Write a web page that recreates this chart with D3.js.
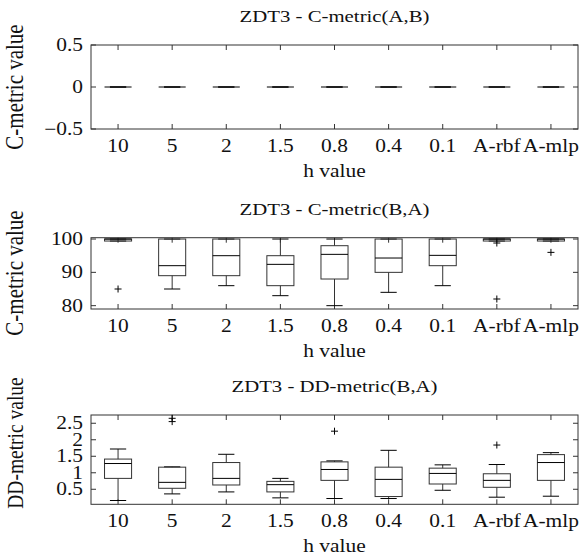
<!DOCTYPE html>
<html>
<head>
<meta charset="utf-8">
<script src="https://cdn.jsdelivr.net/npm/d3@7"></script>
<style>
  html, body { margin: 0; padding: 0; background: #fff; }
  svg { display: block; }
  text { font-family: "Liberation Serif", "Times New Roman", serif; fill: #111; }
</style>
</head>
<body>
<svg id="chart" width="587" height="559"></svg>
<script>
// h values on the x axis of every panel
const categories = ["10", "5", "2", "1.5", "0.8", "0.4", "0.1", "A-rbf", "A-mlp"];

// Panel 1: C-metric(A,B) — every run scores 0
const cabLow    = [0, 0, 0, 0, 0, 0, 0, 0, 0];
const cabQ1     = [0, 0, 0, 0, 0, 0, 0, 0, 0];
const cabMedian = [0, 0, 0, 0, 0, 0, 0, 0, 0];
const cabQ3     = [0, 0, 0, 0, 0, 0, 0, 0, 0];
const cabHigh   = [0, 0, 0, 0, 0, 0, 0, 0, 0];
const cabOut    = [[], [], [], [], [], [], [], [], []];
const cabTicks  = [-0.5, 0, 0.5];
const cabTickLabels = ["\u22120.5", "0", "0.5"];

// Panel 2: C-metric(B,A)
const cbaLow    = [99.4, 85, 86, 83, 80, 84, 86, 99.4, 99.4];
const cbaQ1     = [99.4, 89, 89, 86, 88, 90, 92, 99.4, 99.4];
const cbaMedian = [100, 92, 95, 92.4, 95.4, 94.3, 95.1, 100, 100];
const cbaQ3     = [100, 100, 100, 95, 98, 100, 100, 100, 100];
const cbaHigh   = [100, 100, 100, 100, 100, 100, 100, 100, 100];
const cbaOut    = [[85], [], [], [], [], [], [], [98.8, 82], [96]];
const cbaTicks  = [80, 90, 100];
const cbaTickLabels = ["80", "90", "100"];

// Panel 3: DD-metric(B,A)
const ddLow    = [0.16, 0.36, 0.42, 0.24, 0.22, 0.22, 0.47, 0.26, 0.29];
const ddQ1     = [0.83, 0.53, 0.63, 0.42, 0.77, 0.28, 0.66, 0.56, 0.77];
const ddMedian = [1.28, 0.71, 0.83, 0.64, 1.10, 0.80, 0.98, 0.77, 1.31];
const ddQ3     = [1.415, 1.17, 1.31, 0.74, 1.33, 1.17, 1.14, 0.97, 1.55];
const ddHigh   = [1.72, 1.18, 1.56, 0.83, 1.36, 1.68, 1.24, 1.25, 1.61];
const ddOut    = [[], [2.65, 2.55], [], [], [2.26], [], [], [1.84], []];
const ddTicks  = [0.5, 1, 1.5, 2, 2.5];
const ddTickLabels = ["0.5", "1", "1.5", "2", "2.5"];

const panels = [
  { title: "ZDT3 - C-metric(A,B)", ylabel: "C-metric value", domain: [-0.5, 0.5],
    top: 45, bottom: 129, ylabelY: 87, ylabelSize: 21,
    low: cabLow, q1: cabQ1, med: cabMedian, q3: cabQ3, high: cabHigh,
    out: cabOut, ticks: cabTicks, tickLabels: cabTickLabels },
  { title: "ZDT3 - C-metric(B,A)", ylabel: "C-metric value", domain: [79.0, 100.4],
    top: 237.7, bottom: 309, ylabelY: 273, ylabelSize: 21,
    low: cbaLow, q1: cbaQ1, med: cbaMedian, q3: cbaQ3, high: cbaHigh,
    out: cbaOut, ticks: cbaTicks, tickLabels: cbaTickLabels },
  { title: "ZDT3 - DD-metric(B,A)", ylabel: "DD-metric value", domain: [0.045, 2.75],
    top: 415, bottom: 504.3, ylabelY: 443, ylabelSize: 19.5,
    low: ddLow, q1: ddQ1, med: ddMedian, q3: ddQ3, high: ddHigh,
    out: ddOut, ticks: ddTicks, tickLabels: ddTickLabels }
];

const svg = d3.select("#chart");
const left = 91, right = 578;
const FONT = 18, STRETCH = 1.19, TITLE_FONT = 16, TITLE_STRETCH = 1.3;
const frameColor = "#333", boxColor = "#333", medColor = "#000";

const x = d3.scaleBand().domain(categories).range([left, right]).paddingInner(0).paddingOuter(0);
const step = x.step();
const boxW = step * 0.5, capW = step * 0.3, tickLen = 5;

// text that is widened horizontally, the way the figure's fonts are set
function wideText(g, str, px, py, size, sx, anchor, rotate) {
  return g.append("text")
    .attr("transform", rotate
      ? `translate(${px},${py}) rotate(-90) scale(1,${sx})`
      : `translate(${px},${py}) scale(${sx},1)`)
    .attr("font-size", size)
    .attr("text-anchor", anchor)
    .text(str);
}

panels.forEach(p => {
  const g = svg.append("g");
  const y = d3.scaleLinear().domain(p.domain).range([p.bottom, p.top]);
  const cx = c => x(c) + step / 2;

  // ticks on all four sides, pointing inward
  const ticksG = g.append("g").attr("stroke", frameColor).attr("stroke-width", 1);
  categories.forEach(c => {
    ticksG.append("line").attr("x1", cx(c)).attr("x2", cx(c)).attr("y1", p.bottom).attr("y2", p.bottom - tickLen);
    ticksG.append("line").attr("x1", cx(c)).attr("x2", cx(c)).attr("y1", p.top).attr("y2", p.top + tickLen);
  });
  p.ticks.forEach(v => {
    ticksG.append("line").attr("x1", left).attr("x2", left + tickLen).attr("y1", y(v)).attr("y2", y(v));
    ticksG.append("line").attr("x1", right).attr("x2", right - tickLen).attr("y1", y(v)).attr("y2", y(v));
  });

  // frame
  g.append("rect")
    .attr("x", left).attr("y", p.top)
    .attr("width", right - left).attr("height", p.bottom - p.top)
    .attr("fill", "none").attr("stroke", frameColor).attr("stroke-width", 1);

  // boxes
  categories.forEach((c, i) => {
    const bx = cx(c);
    const bg = g.append("g").attr("fill", "none");
    // whiskers
    bg.append("line").attr("x1", bx).attr("x2", bx).attr("y1", y(p.q3[i])).attr("y2", y(p.high[i]))
      .attr("stroke", boxColor);
    bg.append("line").attr("x1", bx).attr("x2", bx).attr("y1", y(p.q1[i])).attr("y2", y(p.low[i]))
      .attr("stroke", boxColor);
    // whisker caps
    bg.append("line").attr("x1", bx - capW / 2).attr("x2", bx + capW / 2)
      .attr("y1", y(p.high[i])).attr("y2", y(p.high[i])).attr("stroke", "#000");
    bg.append("line").attr("x1", bx - capW / 2).attr("x2", bx + capW / 2)
      .attr("y1", y(p.low[i])).attr("y2", y(p.low[i])).attr("stroke", "#000");
    // box
    bg.append("rect").attr("x", bx - boxW / 2).attr("width", boxW)
      .attr("y", y(p.q3[i])).attr("height", Math.max(0, y(p.q1[i]) - y(p.q3[i])))
      .attr("stroke", boxColor);
    // median
    bg.append("line").attr("x1", bx - boxW / 2).attr("x2", bx + boxW / 2)
      .attr("y1", y(p.med[i])).attr("y2", y(p.med[i])).attr("stroke", medColor);
    // outliers
    p.out[i].forEach(v => {
      const oy = y(v), r = 3.5;
      bg.append("path").attr("d", `M${bx - r},${oy}H${bx + r}M${bx},${oy - r}V${oy + r}`)
        .attr("stroke", "#000");
    });
  });

  // y tick labels
  p.ticks.forEach((v, k) => {
    wideText(g, p.tickLabels[k], left - 8, y(v) + 6, FONT, STRETCH, "end");
  });
  // x tick labels
  categories.forEach(c => {
    wideText(g, c, cx(c), p.bottom + 23, FONT, STRETCH, "middle");
  });
  // x axis title
  wideText(g, "h value", (left + right) / 2, p.bottom + 48, FONT, STRETCH, "middle");
  // y axis title
  wideText(g, p.ylabel, 23, p.ylabelY, p.ylabelSize, STRETCH, "middle", true);
  // panel title
  wideText(g, p.title, (left + right) / 2, p.top - 23, TITLE_FONT, TITLE_STRETCH, "middle");
});
</script>
</body>
</html>
